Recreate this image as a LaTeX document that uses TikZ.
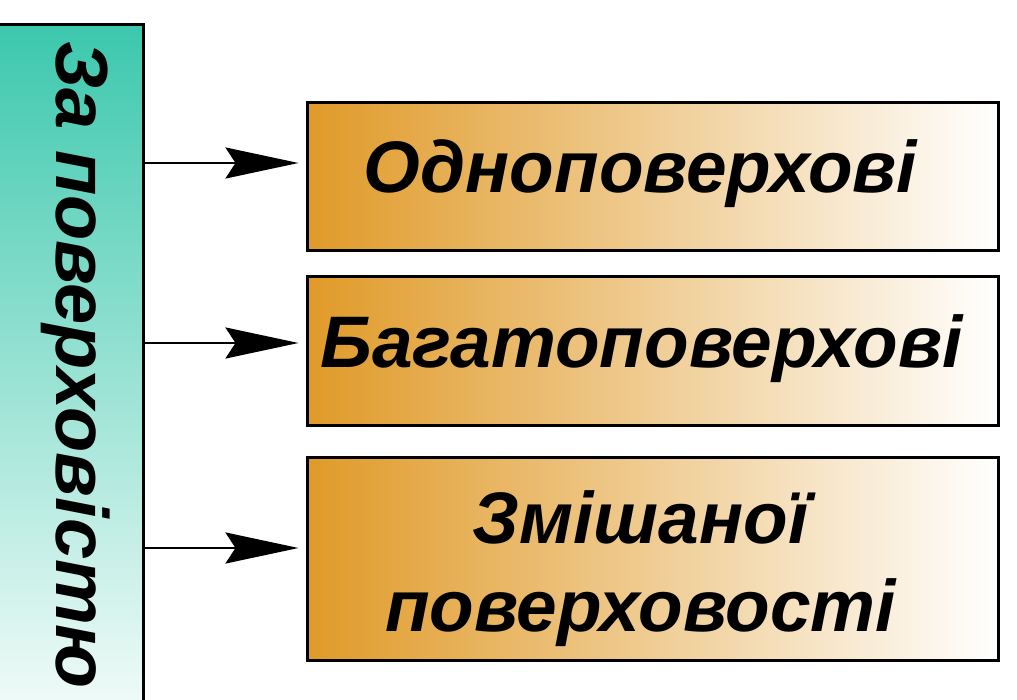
\documentclass[tikz,border=0pt]{standalone}
\usepackage{fontspec}
\setmainfont{Liberation Sans}
\usetikzlibrary{arrows.meta}
\definecolor{teal1}{HTML}{3CC8AD}
\definecolor{teal2}{HTML}{F4FCFA}
\definecolor{orng}{HTML}{E09A28}
\tikzset{
  catbox/.style={draw=black, line width=3pt, left color=orng, right color=white, minimum width=691pt, inner sep=0pt},
  cattext/.style={font=\fontsize{73}{88}\selectfont\bfseries\itshape, align=center, inner sep=0pt},
  conn/.style={line width=2.8pt, -{Stealth[length=73pt, width=31pt, inset=10pt]}, shorten >=7pt}
}
\begin{document}
\begin{tikzpicture}[x=1pt,y=1pt]
\useasboundingbox (0,0) rectangle (1017,-700);
\fill[top color=teal1, bottom color=teal2] (-10,-25) rectangle (143,-720);
\draw[line width=3pt] (-10,-25) -- (143,-25) -- (143,-720);
\coordinate (L1) at (143,-163);
\coordinate (L2) at (143,-343);
\coordinate (L3) at (143,-548);
\node[rotate=-90, font=\fontsize{74}{88}\selectfont\bfseries\itshape, inner sep=0pt] (lab) at (76,-365) {За поверховістю};
\node[catbox, minimum height=148pt] (b1) at (652.5,-177) {};
\node[catbox, minimum height=148pt] (b2) at (652.5,-351) {};
\node[catbox, minimum height=203pt] (b3) at (652.5,-559) {};
\node[cattext] (t1) at ([xshift=-12pt,yshift=3pt]b1.center) {Одноповерхові};
\node[cattext] (t2) at ([xshift=-11pt,yshift=2pt]b2.center) {Багатоповерхові};
\node[cattext] (t3) at ([xshift=-12pt,yshift=-10pt]b3.center) {Змішаної\\поверховості};
\draw[conn] (L1) -- (b1.west |- L1);
\draw[conn] (L2) -- (b2.west |- L2);
\draw[conn] (L3) -- (b3.west |- L3);
\end{tikzpicture}
\end{document}
